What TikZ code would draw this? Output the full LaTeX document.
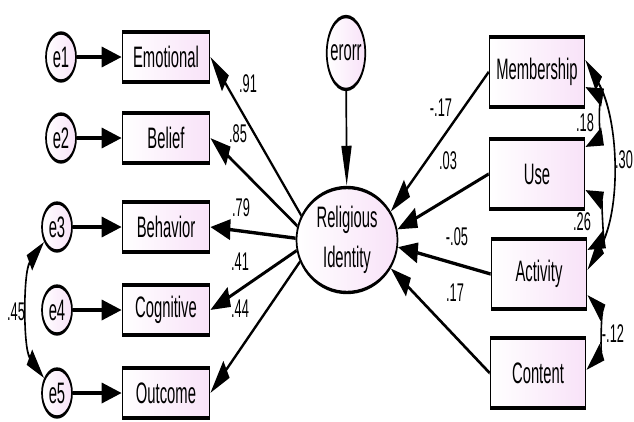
\documentclass[tikz,border=0pt]{standalone}
\usepackage{fontspec}
\setmainfont{Liberation Sans}
\usetikzlibrary{shapes.geometric,arrows.meta}
\definecolor{amospink}{RGB}{248,226,248}
\tikzset{
  obsbox/.style={draw, line width=1.7pt, left color=white, right color=amospink,
    minimum width=87pt, minimum height=25pt, inner sep=0pt,
    font=\fontsize{14.8}{17}\selectfont},
  latent/.style={ellipse, draw, line width=1.7pt, left color=white, right color=amospink,
    inner sep=0pt, font=\fontsize{14.8}{20}\selectfont},
  errc/.style={latent, minimum width=30pt, minimum height=24pt},
  regpath/.style={line width=1.7pt, -{Triangle[length=20pt,width=10pt]}},
  covpath/.style={line width=1.6pt, {Triangle[length=18pt,width=9pt]}-{Triangle[length=18pt,width=9pt]}},
  coef/.style={font=\fontsize{12.8}{14}\selectfont, inner sep=0pt}
}
\begin{document}
\begin{tikzpicture}
    \path[fill=white,use as bounding box] (0pt,0pt) rectangle (634pt,-421pt);
    \begin{scope}[transform canvas={yscale=2}, x=1pt, y=-0.5pt]
    % indicators of religious identity
    \node[obsbox] (emo) at (166,57) {Emotional};
    \node[obsbox] (bel) at (166,138) {Belief};
    \node[obsbox] (beh) at (166,227) {Behavior};
    \node[obsbox] (cog) at (166,310) {Cognitive};
    \node[obsbox] (out) at (166,393) {Outcome};
    \node[errc] (e1) at (61,57) {e1};
    \node[errc] (e2) at (61,138) {e2};
    \node[errc] (e3) at (57,227) {e3};
    \node[errc] (e4) at (57,310) {e4};
    \node[errc] (e5) at (57,393) {e5};
    \draw[regpath] (e1) -- (emo);
    \draw[regpath] (e2) -- (bel);
    \draw[regpath] (e3) -- (beh);
    \draw[regpath] (e4) -- (cog);
    \draw[regpath] (e5) -- (out);
    \draw[covpath] (e3.210) .. controls +(-21pt,-15pt) and +(-21pt,15pt) .. (e5.150);
    \node[coef] (c45) at (16,312) {.45};

    % latent variable
    \node[latent, minimum width=101pt, minimum height=52.5pt, align=center] (ri) at (347,240) {Religious\\Identity};
    \node[latent, minimum width=38pt, minimum height=36.5pt, inner xsep=-2pt] (err) at (346,53) {erorr};
    \draw[regpath] (err) -- (ri);
    \draw[regpath] (ri.165) -- (emo.east);
    \draw[regpath] (ri.172) -- (bel.east);
    \draw[regpath] (ri.179) -- (beh.east);
    \draw[regpath] (ri.186) -- (cog.east);
    \draw[regpath] (ri.193) -- (out.east);
    \node[coef] (c91) at (248,84) {.91};
    \node[coef] (c85) at (238,134) {.85};
    \node[coef] (c79) at (241,208) {.79};
    \node[coef] (c41) at (240,262) {.41};
    \node[coef] (c44) at (240,309) {.44};

    % predictors
    \node[obsbox, minimum width=95pt, minimum height=35pt] (mem) at (537,72) {Membership};
    \node[obsbox, minimum width=95pt, minimum height=35pt] (use) at (537,174) {Use};
    \node[obsbox, minimum width=95pt, minimum height=35pt] (act) at (539,274) {Activity};
    \node[obsbox, minimum width=95pt, minimum height=35pt] (con) at (538,373) {Content};
    \draw[regpath] (mem.west) -- (ri.18);
    \draw[regpath] (use.west) -- (ri.6);
    \draw[regpath] (act.west) -- (ri.-4);
    \draw[regpath] (con.west) -- (ri.-18);
    \node[coef] (c17n) at (441,108) {-.17};
    \node[coef] (c03) at (448,161) {.03};
    \node[coef] (c05n) at (457,237) {-.05};
    \node[coef] (c17) at (455,293) {.17};

    % covariances between predictors
    \draw[covpath] ([yshift=-7.5pt]mem.east) .. controls +(13pt,-4pt) and +(13pt,4pt) .. ([yshift=13.5pt]use.east);
    \draw[covpath] ([yshift=6pt]mem.east) .. controls +(34pt,-30pt) and +(34pt,30pt) .. ([yshift=2pt]act.east);
    \draw[covpath] ([yshift=-8pt]use.east) .. controls +(16pt,-5pt) and +(16pt,5pt) .. ([yshift=12pt]act.east);
    \draw[covpath] ([yshift=-10.5pt]act.east) .. controls +(14pt,-8pt) and +(14pt,8pt) .. ([yshift=1.5pt]con.east);
    \node[coef] (c18) at (585,123) {.18};
    \node[coef] (c30) at (624,160) {.30};
    \node[coef] (c26) at (582,222) {.26};
    \node[coef] (c12n) at (613,334) {-.12};
    \end{scope}
\end{tikzpicture}
\end{document}
